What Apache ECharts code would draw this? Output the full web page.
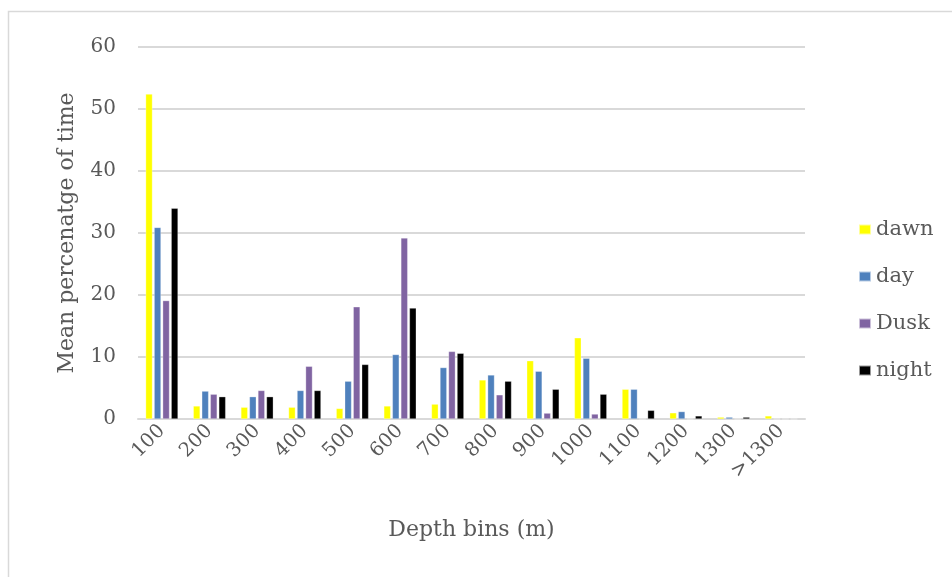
<!DOCTYPE html>
<html>
<head>
<meta charset="utf-8">
<script src="https://cdn.jsdelivr.net/npm/echarts@6/dist/echarts.min.js"></script>
<style>
html,body{margin:0;padding:0;background:#fff;}
#chart{width:952px;height:577px;}
</style>
</head>
<body>
<div id="chart"></div>
<script>
var categories = ['100','200','300','400','500','600','700','800','900','1000','1100','1200','1300','>1300'];
var dawn  = [52.4, 2.1, 1.9, 1.9, 1.7, 2.1, 2.4, 6.3, 9.4, 13.1, 4.8, 1.0, 0.3, 0.5];
var day   = [30.9, 4.5, 3.6, 4.6, 6.1, 10.4, 8.3, 7.1, 7.7, 9.8, 4.8, 1.2, 0.3, 0];
var dusk  = [19.1, 4.0, 4.6, 8.5, 18.1, 29.2, 10.9, 3.9, 0.95, 0.8, 0, 0, 0, 0];
var night = [34.0, 3.6, 3.6, 4.6, 8.8, 17.9, 10.6, 6.1, 4.8, 4.0, 1.4, 0.5, 0.3, 0];
var yTicks = {min: 0, max: 60, interval: 10};

var FONT = 'DejaVu Serif';
var TXT = '#595959';
var chart = echarts.init(document.getElementById('chart'));
function mk(name, data, color){
  return {name: name, type: 'bar', data: data, barGap: '25%', barCategoryGap: '32%',
    itemStyle: {color: color, borderColor: 'rgba(255,255,255,0.6)', borderWidth: 0.5}};
}
chart.setOption({
  animation: false,
  textStyle: {fontFamily: FONT},
  graphic: [{type: 'rect', shape: {x: 8.5, y: 11.5, width: 1200, height: 1200},
    style: {fill: null, stroke: '#d9d9d9', lineWidth: 1.5}, silent: true}],
  grid: {left: 138, right: 147, top: 47, bottom: 158, containLabel: false},
  legend: {orient: 'vertical', left: 853, top: 214, itemWidth: 12, itemHeight: 10, itemGap: 26,
    icon: 'rect', textStyle: {fontFamily: FONT, fontSize: 21, color: TXT, padding: [0,0,0,0]},
    data: ['dawn','day','Dusk','night']},
  xAxis: {type: 'category', data: categories,
    name: 'Depth bins (m)', nameLocation: 'middle', nameGap: 100,
    nameTextStyle: {fontFamily: FONT, fontSize: 22, color: TXT},
    axisLine: {lineStyle: {color: '#d9d9d9', width: 2}},
    axisTick: {show: false},
    axisLabel: {rotate: 45, fontFamily: FONT, fontSize: 19.5, color: TXT, margin: 9, interval: 0}},
  yAxis: {type: 'value', min: yTicks.min, max: yTicks.max, interval: yTicks.interval,
    name: 'Mean percenatge of time', nameLocation: 'middle', nameGap: 60,
    nameTextStyle: {fontFamily: FONT, fontSize: 22, color: TXT},
    axisLine: {show: false}, axisTick: {show: false},
    axisLabel: {fontFamily: FONT, fontSize: 20, color: TXT, margin: 22},
    splitLine: {lineStyle: {color: '#d9d9d9', width: 2}}},
  series: [mk('dawn', dawn, '#FFFF00'), mk('day', day, '#4F81BD'), mk('Dusk', dusk, '#8064A2'), mk('night', night, '#000000')]
});
</script>
</body>
</html>
